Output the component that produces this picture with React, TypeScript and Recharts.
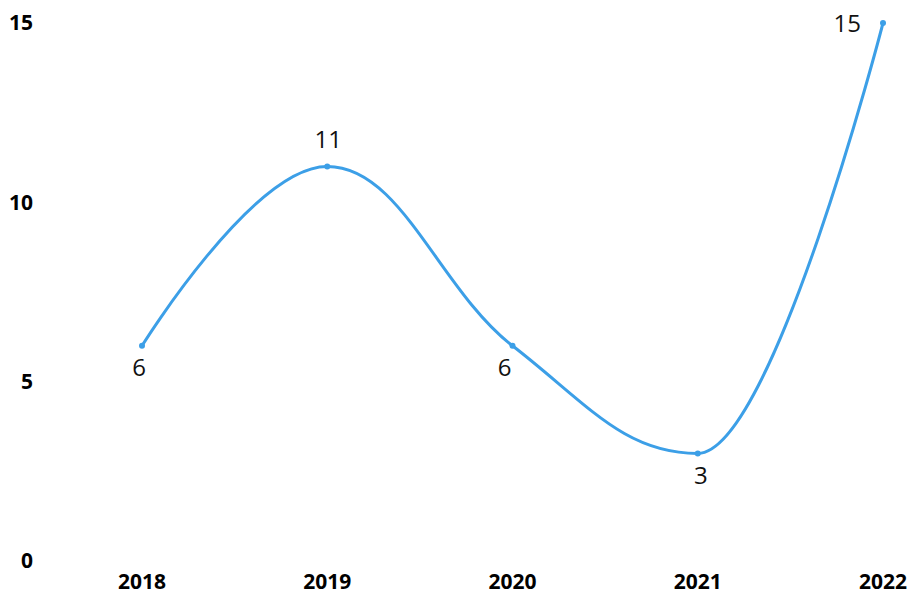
import React from 'react';
import { LineChart, Line, XAxis, YAxis, LabelList } from 'recharts';

// Yearly values
const years = ['2018', '2019', '2020', '2021', '2022'];
const values = [6, 11, 6, 3, 15];
const yTicks = [0, 5, 10, 15];

// Where each value label sits relative to its point
const labelSides = ['below', 'above', 'belowLeft', 'belowRight', 'left'];

const data = years.map((year, i) => ({ year, value: values[i] }));

const LINE_COLOR = '#3c9fe7';

// Spline with control points placed 40% towards the neighbours, tangent
// through both, and clamped so the curve never overshoots a local extreme.
const splineCurve = (context: any) => {
  let pts: [number, number][] = [];
  return {
    areaStart() {},
    areaEnd() {},
    lineStart() {
      pts = [];
    },
    point(x: number, y: number) {
      pts.push([+x, +y]);
    },
    lineEnd() {
      const n = pts.length;
      if (!n) return;
      const smoothing = 1.5;
      const denom = smoothing + 1;
      const left: [number, number][] = [];
      const right: [number, number][] = [];
      for (let i = 0; i < n; i++) {
        const [px, py] = pts[i];
        if (i === 0 || i === n - 1) {
          left.push([px, py]);
          right.push([px, py]);
          continue;
        }
        const [lx, ly] = pts[i - 1];
        const [nx, ny] = pts[i + 1];
        const lcx = (smoothing * px + lx) / denom;
        let lcy = (smoothing * py + ly) / denom;
        const rcx = (smoothing * px + nx) / denom;
        let rcy = (smoothing * py + ny) / denom;
        const correction = ((rcy - lcy) * (rcx - px)) / (rcx - lcx) + py - rcy;
        lcy += correction;
        rcy += correction;
        if (lcy > ly && lcy > py) {
          lcy = Math.max(ly, py);
          rcy = 2 * py - lcy;
        } else if (lcy < ly && lcy < py) {
          lcy = Math.min(ly, py);
          rcy = 2 * py - lcy;
        }
        if (rcy > ny && rcy > py) {
          rcy = Math.max(ny, py);
          lcy = 2 * py - rcy;
        } else if (rcy < ny && rcy < py) {
          rcy = Math.min(ny, py);
          lcy = 2 * py - rcy;
        }
        left.push([lcx, lcy]);
        right.push([rcx, rcy]);
      }
      context.moveTo(pts[0][0], pts[0][1]);
      for (let i = 1; i < n; i++) {
        context.bezierCurveTo(
          right[i - 1][0],
          right[i - 1][1],
          left[i][0],
          left[i][1],
          pts[i][0],
          pts[i][1]
        );
      }
    },
  };
};

const ValueLabel = (props: any) => {
  const { x, y, value, index } = props;
  const side = labelSides[index];
  let dx = 0;
  let dy = 0;
  let anchor: 'middle' | 'end' = 'middle';
  if (side === 'below') {
    dx = -3;
    dy = 30;
  } else if (side === 'belowRight') {
    dx = 3;
    dy = 31;
  } else if (side === 'above') {
    dx = 1;
    dy = -18;
  } else if (side === 'belowLeft') {
    dx = -8;
    dy = 30;
  } else if (side === 'left') {
    dx = -22;
    dy = 9;
    anchor = 'end';
  }
  return (
    <text
      x={x + dx}
      y={y + dy}
      textAnchor={anchor}
      fill="#111111"
      fontFamily="'Open Sans', sans-serif"
      fontWeight={400}
      fontSize={24}
    >
      {value}
    </text>
  );
};

const tickFont = {
  fontFamily: "'Open Sans', sans-serif",
  fontWeight: 700,
  fontSize: 21,
  fill: '#000',
};

export default function App() {
  return (
    <div style={{ position: 'absolute', left: 0, top: 0, background: '#fff' }}>
      <LineChart
        width={912}
        height={594}
        data={data}
        margin={{ top: 23, right: 0, bottom: 0, left: 0 }}
      >
        <XAxis
          dataKey="year"
          axisLine={false}
          tickLine={false}
          tickSize={0}
          tickMargin={13}
          height={33}
          padding={{ left: 109, right: 29 }}
          tick={tickFont}
          interval={0}
        />
        <YAxis
          domain={[0, 15]}
          ticks={yTicks}
          axisLine={false}
          tickLine={false}
          tickSize={0}
          tickMargin={0}
          width={33}
          tick={tickFont}
        />
        <Line
          type={splineCurve as any}
          dataKey="value"
          stroke={LINE_COLOR}
          strokeWidth={3}
          dot={{ r: 3, fill: LINE_COLOR, stroke: 'none' }}
          activeDot={false}
          isAnimationActive={false}
        >
          <LabelList dataKey="value" content={ValueLabel} />
        </Line>
      </LineChart>
    </div>
  );
}
